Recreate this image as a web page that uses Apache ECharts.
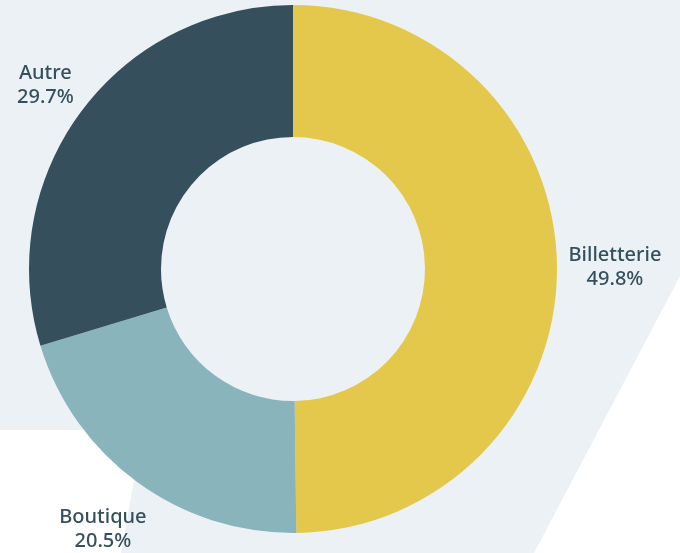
<!DOCTYPE html>
<html>
<head>
<meta charset="utf-8">
<script src="https://cdn.jsdelivr.net/npm/echarts@6/dist/echarts.min.js"></script>
<style>
  html, body { margin: 0; padding: 0; background: #ffffff; }
  #chartPieBox { width: 680px; height: 553px; }
</style>
</head>
<body>
<div id="chartPieBox"></div>
<script>
  // données du graphique
  var categories = ['Billetterie', 'Boutique', 'Autre'];
  var values = [49.8, 20.5, 29.7];
  var colors = ['#e4c84b', '#8ab4bc', '#35505c'];

  var cx = 293, cy = 269;       // centre de l'anneau
  var labelRadius = 322;        // distance des étiquettes

  var total = values.reduce(function (a, b) { return a + b; }, 0);

  var chart = echarts.init(document.getElementById('chartPieBox'));

  var option = {
    backgroundColor: '#ffffff',
    textStyle: { fontFamily: 'Noto Sans' },
    graphic: [
      {
        type: 'polygon',        // forme de fond
        silent: true,
        z: -10,
        shape: {
          points: [[0, 0], [680, 0], [680, 276], [534, 553], [121, 553], [143, 430], [0, 430]]
        },
        style: { fill: '#ebf1f4' }
      }
    ],
    series: [
      {
        type: 'pie',
        center: [cx, cy],
        radius: [132, 264],
        startAngle: 90,
        clockwise: true,
        avoidLabelOverlap: false,
        silent: true,
        itemStyle: { borderWidth: 0 },
        label: {
          show: true,
          position: 'outside',
          formatter: function (p) {
            return p.name + '\n' + p.value.toFixed(1) + '%';
          },
          color: '#35505c',
          fontSize: 20,
          fontWeight: 500,
          lineHeight: 24,
          fontFamily: 'Noto Sans'
        },
        labelLine: { show: false },
        labelLayout: function (params) {
          // angle médian de chaque tranche, à partir des valeurs
          var before = 0;
          for (var i = 0; i < params.dataIndex; i++) before += values[i];
          var mid = (before + values[params.dataIndex] / 2) / total * 2 * Math.PI;
          var x = cx + Math.sin(mid) * labelRadius;
          var y = cy - Math.cos(mid) * labelRadius;
          var halfW = params.labelRect.width / 2;
          if (x - halfW < 17) {
            // on rapproche l'étiquette le long de son rayon
            x = 17 + halfW;
            y = cy - Math.cos(mid) * (cx - x) / -Math.sin(mid);
          }
          return { x: x, y: y, align: 'center', verticalAlign: 'middle' };
        },
        data: categories.map(function (name, i) {
          return { name: name, value: values[i], itemStyle: { color: colors[i] } };
        })
      }
    ]
  };

  chart.setOption(option);
</script>
</body>
</html>
